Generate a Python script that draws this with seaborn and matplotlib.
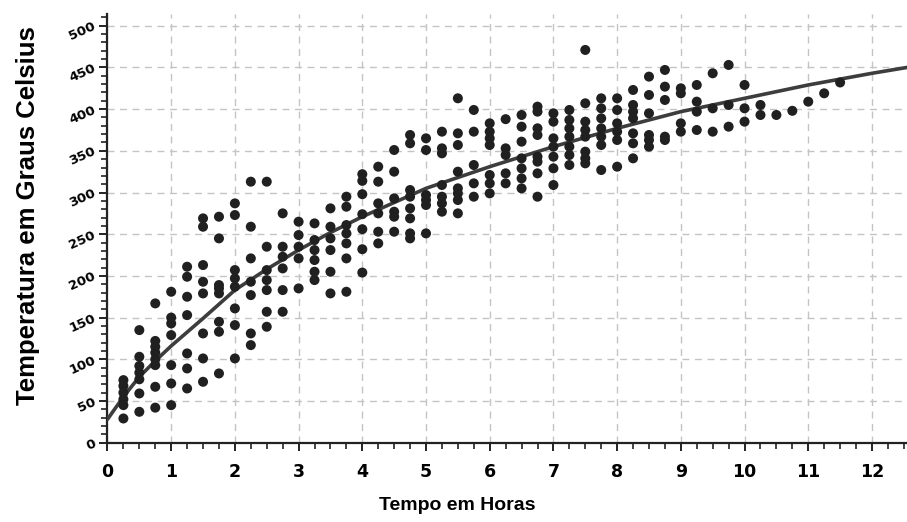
import matplotlib
matplotlib.use("Agg")
import matplotlib.pyplot as plt
import seaborn as sns
import pandas as pd
from matplotlib.ticker import MultipleLocator

# ---- data ----
hours = [0.25, 0.5, 0.75, 1.0, 1.25, 1.5, 1.75, 2.0, 2.25, 2.5, 2.75, 3.0,
         3.25, 3.5, 3.75, 4.0, 4.25, 4.5, 4.75, 5.0, 5.25, 5.5, 5.75, 6.0,
         6.25, 6.5, 6.75, 7.0, 7.25, 7.5, 7.75, 8.0, 8.25, 8.5, 8.75, 9.0,
         9.25, 9.5, 9.75, 10.0, 10.25, 10.5, 10.75, 11.0, 11.25, 11.5]
temps = [
    [29, 45, 52, 60, 68, 75],
    [37, 59, 76, 84, 92, 103, 135],
    [42, 67, 93, 100, 108, 115, 122, 167],
    [45, 71, 93, 129, 143, 150, 181],
    [65, 89, 107, 153, 175, 199, 211],
    [73, 101, 131, 179, 193, 213, 259, 269],
    [83, 133, 145, 179, 185, 189, 245, 271],
    [101, 141, 161, 187, 197, 207, 273, 287],
    [117, 131, 177, 193, 221, 259, 313],
    [139, 157, 183, 195, 207, 235, 313],
    [157, 183, 209, 223, 235, 275],
    [185, 221, 235, 249, 265],
    [195, 205, 219, 231, 243, 263],
    [179, 205, 231, 245, 259, 281],
    [181, 221, 239, 251, 261, 283, 295],
    [204, 232, 256, 274, 298, 314, 322],
    [239, 253, 275, 287, 313, 331],
    [253, 271, 277, 293, 325, 351],
    [245, 251, 269, 281, 295, 303, 359, 369],
    [251, 285, 291, 297, 351, 365],
    [277, 287, 295, 309, 347, 353, 373],
    [275, 291, 299, 305, 325, 357, 371, 413],
    [295, 311, 333, 373, 399],
    [299, 311, 321, 357, 365, 373, 383],
    [311, 323, 345, 353, 388],
    [305, 317, 329, 341, 361, 379, 393],
    [295, 323, 337, 343, 369, 377, 397, 403],
    [309, 329, 343, 355, 365, 385, 395],
    [333, 345, 355, 367, 377, 387, 399],
    [335, 341, 349, 367, 375, 385, 407, 471],
    [327, 357, 367, 377, 389, 401, 413],
    [331, 363, 373, 383, 399, 413],
    [341, 359, 371, 389, 397, 405, 423],
    [355, 363, 369, 395, 417, 439],
    [363, 367, 411, 427, 447],
    [373, 383, 419, 425],
    [375, 397, 409, 429],
    [373, 401, 443],
    [379, 405, 453],
    [385, 401, 429],
    [393, 405],
    [393],
    [398],
    [409],
    [419],
    [432],
]

curve_x = [0, 0.25, 0.5, 0.75, 1, 1.5, 2, 2.5, 3, 3.5, 4, 5, 6, 7, 8, 9,
           10, 11, 12, 12.55]
curve_y = [28, 55, 79, 98, 116, 149, 183, 208, 231, 252, 271, 305, 331, 355,
           377, 397, 413, 429, 443, 450]

x_label = "Tempo em Horas"
y_label = "Temperatura em Graus Celsius"

# ---- build table ----
rows = [(h, t) for h, ts in zip(hours, temps) for t in ts]
df = pd.DataFrame(rows, columns=["hora", "temp"])
curve = pd.DataFrame({"hora": curve_x, "temp": curve_y})

sns.set_style("white")
plt.rcParams["font.family"] = ["Liberation Sans", "DejaVu Sans"]

fig = plt.figure(figsize=(9.07, 5.22), dpi=100)
ax = fig.add_axes([0.1185, 0.152, 0.8815, 0.821])

ax.grid(True, which="major", color="#c4c4c4", linestyle=(0, (5, 4)), linewidth=1.0)
ax.set_axisbelow(True)

sns.lineplot(data=curve, x="hora", y="temp", ax=ax, color="#3d3d3d",
             linewidth=2.6, zorder=3, sort=True)
sns.scatterplot(data=df, x="hora", y="temp", ax=ax, color="#202020",
                s=52, edgecolor="none", zorder=4)

ax.set_xlim(0, 12.55)
ax.set_ylim(0, 514)
ax.xaxis.set_major_locator(MultipleLocator(1))
ax.xaxis.set_minor_locator(MultipleLocator(0.25))
ax.yaxis.set_major_locator(MultipleLocator(50))
ax.yaxis.set_minor_locator(MultipleLocator(10))

for s in ["top", "right"]:
    ax.spines[s].set_visible(False)
for s in ["left", "bottom"]:
    ax.spines[s].set_color("#222222")
    ax.spines[s].set_linewidth(1.6)

ax.tick_params(axis="both", which="both", bottom=True, left=True,
               direction="out", color="#222222", labelcolor="black")
ax.tick_params(axis="both", which="major", length=6, width=1.4)
ax.tick_params(axis="both", which="minor", length=4, width=1.2)
ax.tick_params(axis="x", which="major", pad=9)
ax.tick_params(axis="y", which="major", pad=3)

for lab in ax.get_xticklabels():
    lab.set_fontfamily(["DejaVu Sans", "Liberation Sans"])
    lab.set_fontweight("bold")
    lab.set_fontsize(12.5)
for lab in ax.get_yticklabels():
    lab.set_fontfamily(["DejaVu Sans"])
    lab.set_fontweight("bold")
    lab.set_fontsize(9.5)
    lab.set_rotation(24)
    lab.set_rotation_mode("anchor")
    lab.set_va("center")
    lab.set_ha("right")

ax.set_xlabel(x_label, fontsize=14, fontweight="bold", color="black",
              family=["Liberation Sans", "DejaVu Sans"])
ax.xaxis.set_label_coords(0.438, -0.126)
ax.xaxis.label.set_va("top")
ax.set_ylabel(y_label, fontsize=18.5, fontweight="bold", color="black")
ax.yaxis.set_label_coords(-0.084, 0.53)

fig.savefig("out.png", dpi=100, facecolor="white")
